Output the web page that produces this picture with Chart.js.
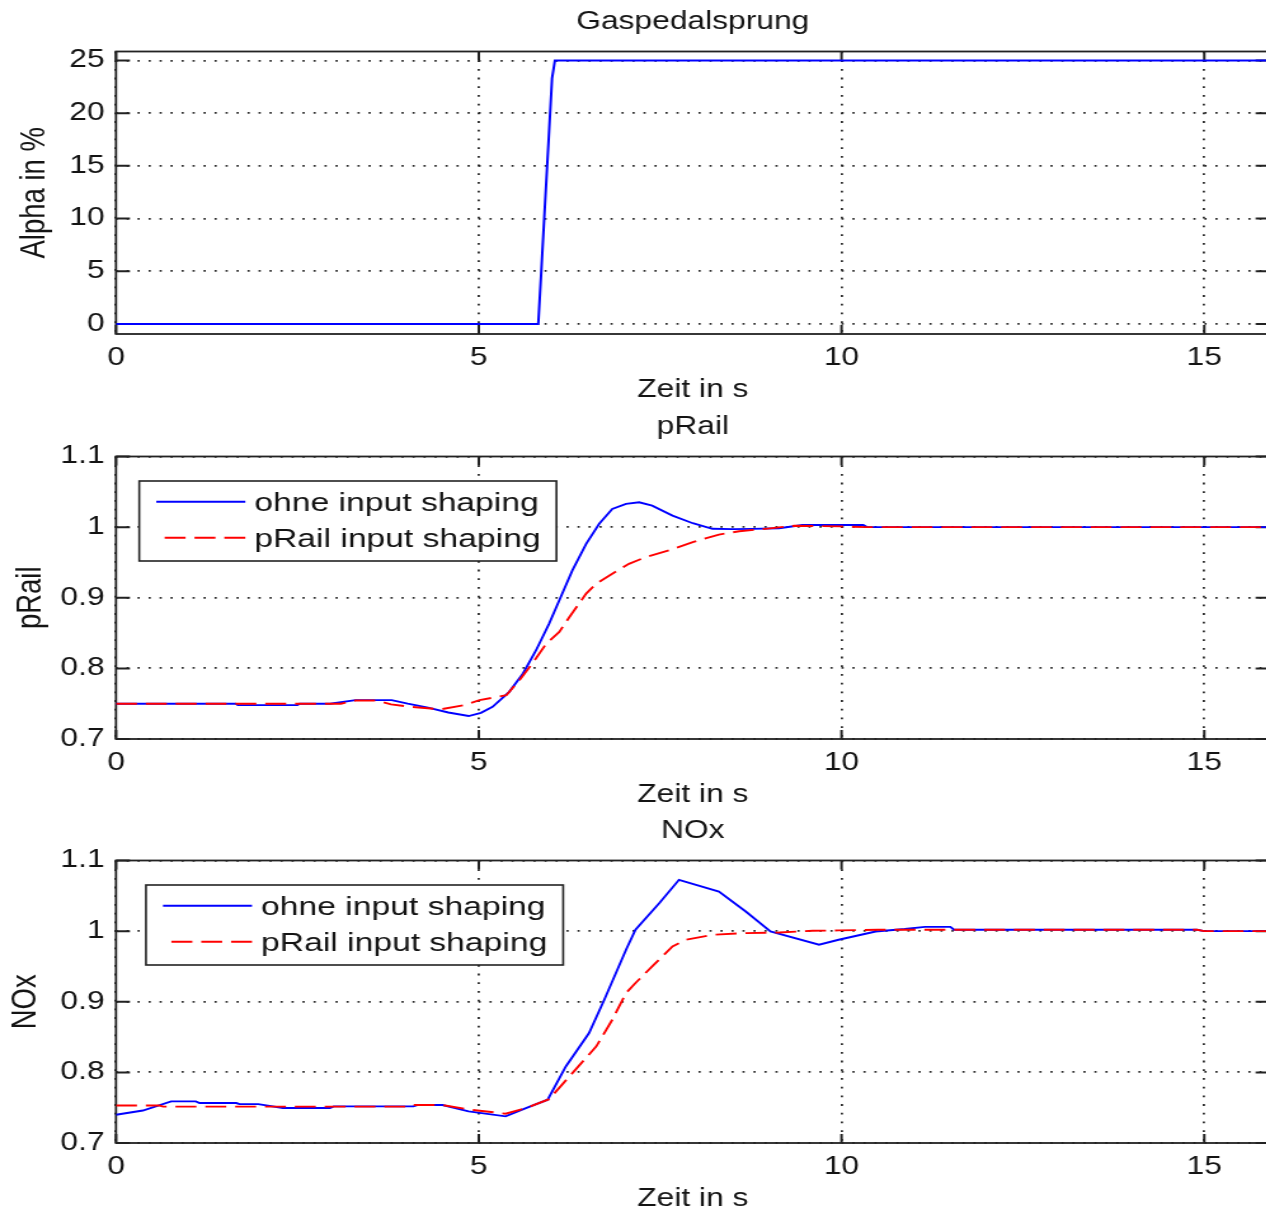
<!DOCTYPE html>
<html>
<head>
<meta charset="utf-8">
<script src="https://cdn.jsdelivr.net/npm/chart.js@4.4.1/dist/chart.umd.min.js"></script>
<style>
  html, body { margin: 0; padding: 0; background: #fff; overflow: hidden; width: 1266px; height: 1213px; }
  /* the figure is drawn in a narrower coordinate space and widened horizontally */
  .panel { position: absolute; left: 0; transform: scaleX(1.27); transform-origin: 0 0; }
  .panel canvas { display: block; }
</style>
</head>
<body>
<div class="panel" style="top:0px"><canvas id="alpha" width="1091" height="408"></canvas></div>
<div class="panel" style="top:405px"><canvas id="rail" width="1091" height="408"></canvas></div>
<div class="panel" style="top:809px"><canvas id="nox" width="1091" height="408"></canvas></div>
<script>
// ---- axis ticks ----
const xTicks = [0, 5, 10, 15];
const xTickLabels = ['0', '5', '10', '15'];
const xMax = 15.9;
const alphaTicks = [0, 5, 10, 15, 20, 25];
const alphaTickLabels = ['0', '5', '10', '15', '20', '25'];
const ratioTicks = [0.7, 0.8, 0.9, 1.0, 1.1];
const ratioTickLabels = ['0.7', '0.8', '0.9', '1', '1.1'];

// ---- series names ----
const nameOhne = 'ohne input shaping';
const nameShaped = 'pRail input shaping';

// ---- Gaspedalsprung: pedal position in % ----
const alphaTime  = [0, 5.82, 5.86, 5.91, 5.96, 6.01, 6.05, 15.9];
const alphaValue = [0, 0,    4.8,  11,   17.1, 23.3, 25,   25];

// ---- pRail (normalised) ----
const railTimeOhne = [0, 1.65, 1.68, 2.5, 2.53, 2.95, 3.3, 3.8, 4.02, 4.3, 4.58, 4.86, 5.03, 5.19, 5.42, 5.61, 5.79, 5.97, 6.13, 6.29, 6.48, 6.66, 6.84, 7.03, 7.21, 7.39, 7.67, 7.95, 8.22, 8.5, 8.77, 9.14, 9.46, 10.3, 10.35, 15.9];
const railOhne     = [0.75, 0.75, 0.748, 0.748, 0.75, 0.75, 0.755, 0.755, 0.75, 0.7445, 0.7375, 0.7325, 0.737, 0.7456, 0.7668, 0.7928, 0.8257, 0.8634, 0.901, 0.9387, 0.9764, 1.0047, 1.0258, 1.0329, 1.0352, 1.0305, 1.0164, 1.0055, 0.9976, 0.9972, 0.9975, 0.9985, 1.003, 1.003, 1.0, 1.0];
const railTimeShaped = [0, 3.1, 3.3, 3.6, 3.79, 4.02, 4.47, 4.8, 5.01, 5.38, 5.56, 5.74, 5.93, 6.11, 6.25, 6.48, 6.62, 6.84, 7.07, 7.3, 7.62, 7.95, 8.31, 8.59, 8.95, 9.35, 9.98, 10.35, 15.9];
const railShaped     = [0.75, 0.75, 0.7545, 0.7545, 0.749, 0.746, 0.742, 0.748, 0.755, 0.762, 0.7833, 0.807, 0.835, 0.8516, 0.8727, 0.9058, 0.92, 0.934, 0.948, 0.9575, 0.967, 0.9787, 0.9895, 0.9942, 0.9976, 1.002, 1.001, 1.0, 1.0];

// ---- NOx (normalised) ----
const noxTimeOhne = [0, 0.37, 0.76, 1.1, 1.15, 1.66, 1.7, 1.96, 2.3, 2.95, 3.0, 4.1, 4.15, 4.5, 4.86, 5.37, 5.65, 5.95, 6.2, 6.52, 6.73, 7.03, 7.16, 7.49, 7.76, 8.31, 8.68, 9.02, 9.69, 9.96, 10.47, 10.87, 11.15, 11.5, 11.55, 14.9, 15.0, 15.9];
const noxOhne     = [0.74, 0.746, 0.759, 0.759, 0.7566, 0.7566, 0.755, 0.755, 0.7495, 0.7495, 0.7518, 0.7518, 0.7537, 0.7537, 0.7447, 0.7377, 0.7495, 0.7613, 0.8084, 0.8557, 0.9028, 0.9736, 1.0019, 1.0397, 1.0727, 1.0561, 1.0278, 0.9995, 0.9807, 0.9878, 0.9995, 1.003, 1.006, 1.006, 1.002, 1.002, 1.0, 1.0];
const noxTimeShaped = [0, 0.6, 0.65, 4.05, 4.1, 4.5, 4.9, 5.37, 5.65, 5.97, 6.29, 6.62, 6.84, 7.03, 7.16, 7.39, 7.67, 7.85, 8.22, 8.68, 9.14, 9.6, 9.96, 10.5, 14.9, 15.0, 15.9];
const noxShaped     = [0.753, 0.753, 0.7515, 0.7515, 0.7537, 0.7537, 0.747, 0.7415, 0.7495, 0.762, 0.799, 0.8368, 0.8745, 0.9123, 0.9265, 0.95, 0.9783, 0.9877, 0.9948, 0.9972, 0.998, 1.0005, 1.001, 1.002, 1.002, 1.0, 1.0];

// ---- styling ----
const FONT = '"Liberation Sans", Arial, Helvetica, sans-serif';
const INK = '#141414';
const GRID = '#2a2a2a';
const AXIS_W = 91.34;       // room for y tick labels and y title, mirrored on the right
Chart.defaults.font.family = FONT;
Chart.defaults.color = INK;

// Box around each axes, inward tick marks, and a framed legend
const axesFrame = {
  id: 'axesFrame',
  beforeDatasetsDraw(chart) {
    const { ctx, chartArea: a } = chart;
    const x = chart.scales.x, y = chart.scales.y;
    ctx.save();
    ctx.setLineDash([]);
    ctx.strokeStyle = '#222';
    ctx.lineWidth = 1.8;
    ctx.strokeRect(a.left, a.top, a.right - a.left, a.bottom - a.top);
    ctx.beginPath();
    for (const t of x.ticks) {
      const px = x.getPixelForValue(t.value);
      ctx.moveTo(px, a.bottom); ctx.lineTo(px, a.bottom - 9);
      ctx.moveTo(px, a.top);    ctx.lineTo(px, a.top + 9);
    }
    for (const t of y.ticks) {
      const py = y.getPixelForValue(t.value);
      ctx.moveTo(a.left, py);  ctx.lineTo(a.left + 11, py);
      ctx.moveTo(a.right, py); ctx.lineTo(a.right - 11, py);
    }
    ctx.lineWidth = 2;
    ctx.stroke();
    ctx.restore();
  },
  afterDatasetsDraw(chart, args, opts) {
    const L = opts.legend;
    if (!L) return;
    const { ctx, chartArea: a } = chart;
    const bx = a.left + L.dx, by = a.top + L.dy, bw = 328.5, bh = 80;
    ctx.save();
    ctx.fillStyle = '#fff';
    ctx.fillRect(bx, by, bw, bh);
    ctx.setLineDash([]);
    ctx.strokeStyle = '#222';
    ctx.lineWidth = 1.6;
    ctx.strokeRect(bx, by, bw, bh);
    ctx.font = '26.5px ' + FONT;
    ctx.textBaseline = 'middle';
    ctx.textAlign = 'left';
    chart.data.datasets.forEach((ds, i) => {
      const ry = by + 20.7 + i * 36;
      ctx.strokeStyle = ds.borderColor;
      ctx.lineWidth = ds.borderWidth;
      ctx.setLineDash(ds.borderDash || []);
      ctx.beginPath();
      ctx.moveTo(bx + (ds.borderDash ? 20 : 13.4), ry);
      ctx.lineTo(bx + 83.5, ry);
      ctx.stroke();
      ctx.setLineDash([]);
      ctx.fillStyle = INK;
      ctx.fillText(ds.label, bx + 90.6, ry + 2);
    });
    ctx.restore();
  }
};

function panel(id, p) {
  return new Chart(document.getElementById(id), {
    type: 'line',
    data: {
      datasets: p.series.map(s => ({
        label: s.label,
        data: s.t.map((t, i) => ({ x: t, y: s.v[i] })),
        borderColor: s.color,
        borderWidth: s.width,
        borderDash: s.dash,
        order: s.order,
        pointRadius: 0,
        tension: 0,
        fill: false
      }))
    },
    options: {
      responsive: false,
      animation: false,
      devicePixelRatio: 1,
      layout: { padding: 0 },
      plugins: {
        legend: { display: false },
        tooltip: { enabled: false },
        title: {
          display: true, text: p.title, color: INK,
          font: { size: 25, weight: 'normal' },
          padding: { top: 7, bottom: 14.5 }
        },
        axesFrame: { legend: p.legend }
      },
      scales: {
        x: {
          type: 'linear', min: 0, max: xMax,
          afterBuildTicks: s => { s.ticks = xTicks.map(v => ({ value: v })); },
          afterFit: s => { s.height = 74; },
          grid: { color: GRID, lineWidth: 1.8, drawTicks: false },
          border: { display: false, dash: [1.8, 6.9] },
          ticks: { padding: 9, maxRotation: 0, autoSkip: false, font: { size: 25 }, color: INK,
                   callback: (v, i) => xTickLabels[i] },
          title: { display: true, text: 'Zeit in s', color: INK, font: { size: 25 },
                   padding: { top: 0, bottom: 3 } }
        },
        y: {
          type: 'linear', min: p.yMin, max: p.yMax,
          afterBuildTicks: s => { s.ticks = p.yTicks.map(v => ({ value: v })); },
          afterFit: s => { s.width = AXIS_W; },
          grid: { color: GRID, lineWidth: 1.8, drawTicks: false },
          border: { display: false, dash: [1.7, 6.96] },
          ticks: { padding: 9, autoSkip: false, font: { size: 25 }, color: INK,
                   callback: (v, i) => p.yTickLabels[i] },
          title: { display: true, text: p.yTitle, color: INK, font: { size: 27.5 },
                   padding: { top: p.yTitlePad, bottom: 0 } }
        },
        yr: {
          type: 'linear', position: 'right',
          afterFit: s => { s.width = AXIS_W; },
          grid: { display: false }, border: { display: false }, ticks: { display: false }
        }
      }
    },
    plugins: [axesFrame]
  });
}

const BLUE = '#0000ff', RED = '#ff0000', DASH = [16.5, 7];

panel('alpha', {
  title: 'Gaspedalsprung', yTitle: 'Alpha in %', yTitlePad: 10.8,
  yMin: -0.95, yMax: 25.85, yTicks: alphaTicks, yTickLabels: alphaTickLabels,
  legend: null,
  series: [{ label: 'Alpha', t: alphaTime, v: alphaValue, color: BLUE, width: 2, order: 0 }]
});

panel('rail', {
  title: 'pRail', yTitle: 'pRail', yTitlePad: 8.4,
  yMin: 0.7, yMax: 1.1, yTicks: ratioTicks, yTickLabels: ratioTickLabels,
  legend: { dx: 18.3, dy: 24.5 },
  series: [
    { label: nameOhne, t: railTimeOhne, v: railOhne, color: BLUE, width: 1.9, order: 1 },
    { label: nameShaped, t: railTimeShaped, v: railShaped, color: RED, width: 1.9, dash: DASH, order: 0 }
  ]
});

panel('nox', {
  title: 'NOx', yTitle: 'NOx', yTitlePad: 3.6,
  yMin: 0.7, yMax: 1.1, yTicks: ratioTicks, yTickLabels: ratioTickLabels,
  legend: { dx: 23.6, dy: 24.5 },
  series: [
    { label: nameOhne, t: noxTimeOhne, v: noxOhne, color: BLUE, width: 1.9, order: 1 },
    { label: nameShaped, t: noxTimeShaped, v: noxShaped, color: RED, width: 1.9, dash: DASH, order: 0 }
  ]
});
</script>
</body>
</html>
